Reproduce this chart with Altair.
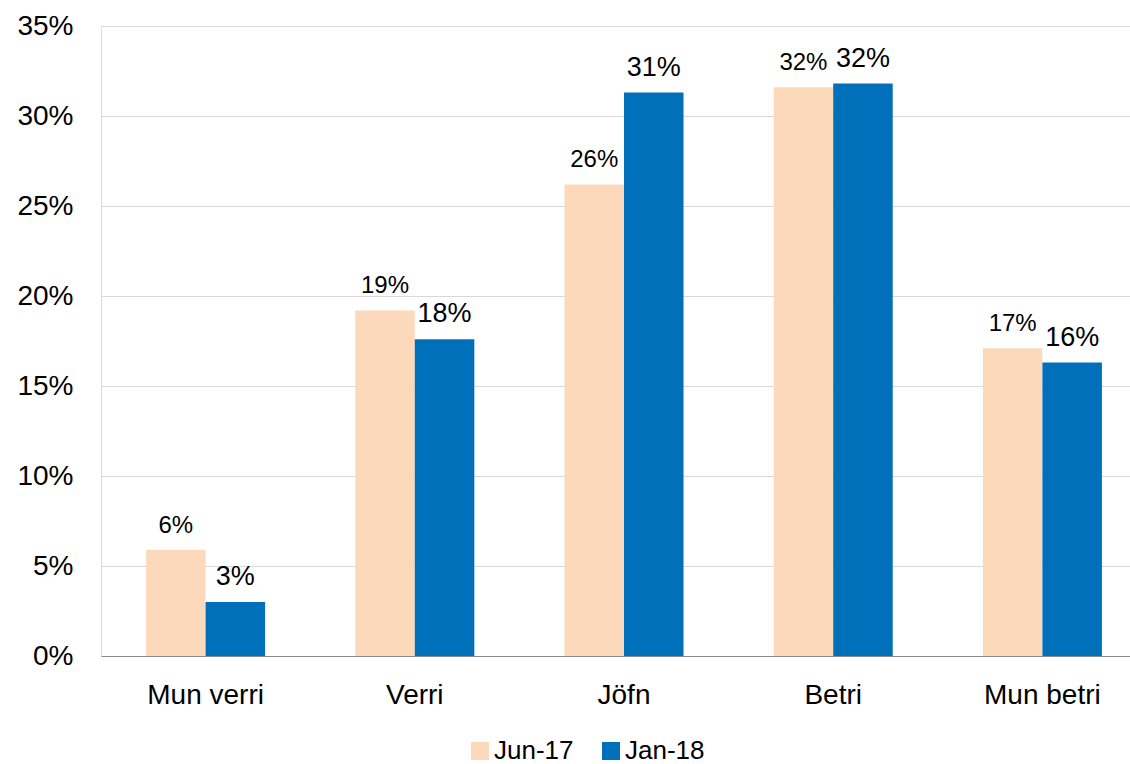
import altair as alt
import pandas as pd

categories = ["Mun verri", "Verri", "Jöfn", "Betri", "Mun betri"]
series = ["Jun-17", "Jan-18"]
jun17 = [0.059, 0.192, 0.262, 0.316, 0.171]
jan18 = [0.030, 0.176, 0.313, 0.318, 0.163]
colors = ["#FDD9BC", "#0070BA"]

rows = []
for i, c in enumerate(categories):
    rows.append({"kat": c, "serie": series[0], "v": jun17[i]})
    rows.append({"kat": c, "serie": series[1], "v": jan18[i]})
df = pd.DataFrame(rows)

FONT = "Liberation Sans"

# category bands run slightly past the right edge of the drawing area
x = alt.X("kat:N", sort=categories, title=None,
          scale=alt.Scale(paddingInner=0.431, paddingOuter=0.2155, range=[0, 1046]),
          axis=alt.Axis(labelAngle=0, labelFontSize=28, labelFont=FONT,
                        labelColor="#000000", labelPadding=25, ticks=False,
                        domainColor="#8c8c8c", domainWidth=1.2))
xo = alt.XOffset("serie:N", sort=series)
y = alt.Y("v:Q", title=None,
          scale=alt.Scale(domain=[0, 0.35], nice=False),
          axis=alt.Axis(format=".0%", values=[0, 0.05, 0.1, 0.15, 0.2, 0.25, 0.3, 0.35],
                        labelFontSize=28, labelFont=FONT, labelColor="#000000",
                        labelPadding=28, ticks=False, domain=False,
                        gridColor="#d9d9d9", gridWidth=1.2))

bars = alt.Chart(df).mark_bar().encode(
    x=x, xOffset=xo, y=y,
    color=alt.Color("serie:N", sort=series,
                    scale=alt.Scale(domain=series, range=colors),
                    legend=alt.Legend(title=None, orient="none", direction="horizontal",
                                      legendX=366, legendY=712,
                                      symbolType="square", symbolSize=324,
                                      symbolStrokeWidth=0,
                                      labelFontSize=26, labelFont=FONT,
                                      labelColor="#000000", columnPadding=24,
                                      labelOffset=1)),
)

def value_labels(name, size):
    return alt.Chart(df).transform_filter(alt.datum.serie == name).mark_text(
        baseline="alphabetic", dy=-17, font=FONT, fontSize=size, color="#000000"
    ).encode(
        x=x, xOffset=xo, y=y,
        text=alt.Text("v:Q", format=".0%"),
    )

chart = (bars + value_labels("Jun-17", 24) + value_labels("Jan-18", 27)).properties(
    width=1029, height=630,
    autosize=alt.AutoSizeParams(type="none"),
    padding={"left": 101, "top": 26, "right": 0, "bottom": 108},
).configure_view(stroke=None).configure(background="white")

chart.save("out.html", embed_options={"renderer": "svg", "actions": False})
